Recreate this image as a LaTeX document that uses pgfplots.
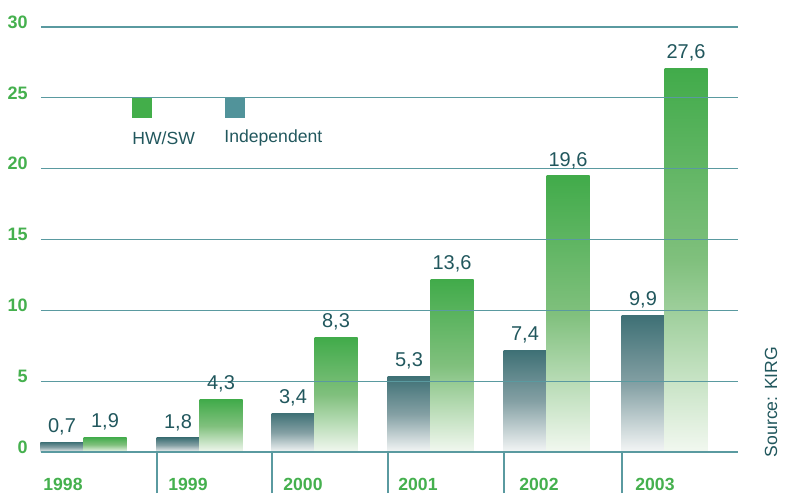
\documentclass[border=0pt]{standalone}
\usepackage{pgfplots}
\pgfplotsset{compat=1.18}
\usepackage{fontspec}
\setmainfont{Liberation Sans}
\definecolor{gridc}{HTML}{5A9AA0}
\definecolor{tickg}{HTML}{45B04E}
\definecolor{labc}{HTML}{21575D}
\definecolor{gtop}{HTML}{41AB4A}
\definecolor{gmid}{HTML}{80C07D}
\definecolor{gbot}{HTML}{F2F8F0}
\definecolor{ttop}{HTML}{3E7075}
\definecolor{tmid}{HTML}{84A0A4}
\definecolor{tbot}{HTML}{F4F6F6}
\definecolor{legG}{HTML}{43AE4A}
\definecolor{legT}{HTML}{51939A}
\pgfplotsset{
  indbar/.style={draw=none, top color=ttop, bottom color=tbot, middle color=tmid},
  hwbar/.style={draw=none, top color=gtop, bottom color=gbot, middle color=gmid},
}
\begin{document}
\begin{tikzpicture}
\path[use as bounding box] (0,0) rectangle (392.5pt,246.5pt);
\begin{axis}[
  at={(20.5pt,20.5pt)}, anchor=south west,
  scale only axis, width=348.5pt, height=212.5pt,
  xmin=41, xmax=738, ymin=0, ymax=30,
  axis line style={draw=none},
  ytick={0,5,...,30},
  ymajorgrids, grid style={draw=gridc, line width=0.6pt},
  major tick length=0pt,
  xtick pos=bottom,
  xtick={43,168,283,398,519,635},
  xticklabels={1998,1999,2000,2001,2002,2003},
  xticklabel style={anchor=west, inner sep=0pt, text=tickg, font=\bfseries\fontsize{8.8}{10}\selectfont, yshift=-16pt},
  yticklabel style={anchor=east, inner sep=0pt, text=tickg, font=\bfseries\fontsize{9}{10}\selectfont, xshift=-6.5pt, yshift=2.5pt},
  /pgf/number format/assume math mode=true,
  extra x ticks={157,272,388,504,622},
  extra x tick labels={},
  extra x tick style={major tick length=20.5pt, tick align=outside, tick style={draw=gridc, line width=0.6pt}},
  axis on top, clip=false,
  ybar, bar width=21.5pt, bar shift=0pt,
  nodes near coords, point meta=explicit symbolic,
  every node near coord/.append style={font=\fontsize{10}{12}\selectfont, text=labc},
  table/row sep=\\,
]
% Independent
\addplot[indbar] table[meta=label] {x y label\\ 62 0.7 0,7\\};
\addplot[indbar] table[meta=label] {x y label\\ 178 1.0 1,8\\};
\addplot[indbar] table[meta=label] {x y label\\ 293 2.75 3,4\\};
\addplot[indbar] table[meta=label] {x y label\\ 409 5.35 5,3\\};
\addplot[indbar] table[meta=label] {x y label\\ 525 7.2 7,4\\};
\addplot[indbar] table[meta=label] {x y label\\ 643 9.65 9,9\\};
% HW/SW
\addplot[hwbar] table[meta=label] {x y label\\ 105 1.05 1,9\\};
\addplot[hwbar] table[meta=label] {x y label\\ 221 3.7 4,3\\};
\addplot[hwbar] table[meta=label] {x y label\\ 336 8.1 8,3\\};
\addplot[hwbar] table[meta=label] {x y label\\ 452 12.2 13,6\\};
\addplot[hwbar] table[meta=label] {x y label\\ 568 19.5 19,6\\};
\addplot[hwbar] table[meta=label] {x y label\\ 686 27.1 27,6\\};
\fill[legG] (axis cs:132,24.99) rectangle (axis cs:152,23.58);
\fill[legT] (axis cs:225,24.99) rectangle (axis cs:245,23.58);
\node[anchor=west, inner sep=0pt, text=labc, font=\fontsize{8.8}{10}\selectfont] at (axis cs:132,22.16) {HW/SW};
\node[anchor=west, inner sep=0pt, text=labc, font=\fontsize{8.8}{10}\selectfont] at (axis cs:224,22.16) {Independent};
\node[rotate=90, inner sep=0pt, text=labc, font=\fontsize{8.8}{10}\selectfont] at (axis cs:771,3.53) {Source: KIRG};
\end{axis}
\end{tikzpicture}
\end{document}
